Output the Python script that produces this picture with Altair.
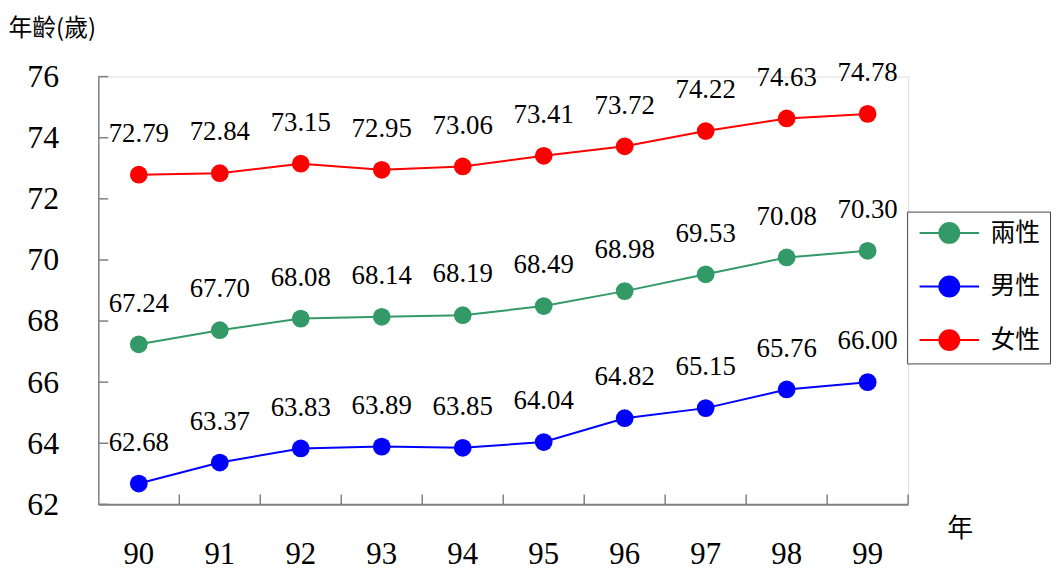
import altair as alt
import pandas as pd

years = ["90", "91", "92", "93", "94", "95", "96", "97", "98", "99"]
both = [67.24, 67.70, 68.08, 68.14, 68.19, 68.49, 68.98, 69.53, 70.08, 70.30]
male = [62.68, 63.37, 63.83, 63.89, 63.85, 64.04, 64.82, 65.15, 65.76, 66.00]
female = [72.79, 72.84, 73.15, 72.95, 73.06, 73.41, 73.72, 74.22, 74.63, 74.78]
series = ["兩性", "男性", "女性"]
colors = ["#339966", "#0000FF", "#FF0000"]
y_ticks = [62, 64, 66, 68, 70, 72, 74, 76]

rows = []
for name, vals in zip(series, [both, male, female]):
    for yr, v in zip(years, vals):
        rows.append({"year": yr, "value": v, "series": name, "label": f"{v:.2f}"})
df = pd.DataFrame(rows)
tick_df = pd.DataFrame({"t": y_ticks})
year_df = pd.DataFrame({"year": years})

W, H = 816, 431
SERIF = "Liberation Serif"
CJK = "Noto Sans CJK TC"

xscale = alt.Scale(type="band", domain=years, paddingInner=0, paddingOuter=0)
yscale = alt.Scale(domain=[62, 76], nice=False, zero=False)
cscale = alt.Scale(domain=series, range=colors)

x_axis = alt.Axis(
    title="年", titleFont=CJK, titleFontSize=26, titleFontWeight="normal",
    titleX=868, titleY=24, titleAlign="center", titleBaseline="middle", titleAngle=0,
    labelFont=SERIF, labelFontSize=31, labelPadding=36, labelAngle=0,
    labelAlign="center", labelBaseline="top", bandPosition=0.5,
    labelColor="black", ticks=False, domainColor="#808080", domainWidth=2,
    grid=False,
)
y_axis = alt.Axis(
    title="年齡(歲)", titleFont=CJK, titleFontSize=24, titleFontWeight="normal",
    titleX=-91, titleY=-48, titleAlign="left", titleBaseline="middle", titleAngle=0,
    labelFont=SERIF, labelFontSize=32, labelPadding=40, labelColor="black",
    values=y_ticks, ticks=False, domainColor="#808080", domainWidth=1.5, grid=False,
)

legend = alt.Legend(
    title=None, orient="none", legendX=815, legendY=136,
    strokeColor="#444444", padding=9, fillColor="white",
    symbolType="M-3,0L3,0M-1,0A1,1,0,1,1,1,0A1,1,0,1,1,-1,0Z",
    symbolSize=400, symbolStrokeWidth=2, symbolOffset=21,
    labelFont=CJK, labelFontSize=25, labelOffset=29, labelColor="black",
    rowPadding=25,
)

base = alt.Chart(df)

lines = base.mark_line(strokeWidth=2).encode(
    x=alt.X("year:N", scale=xscale, axis=x_axis),
    y=alt.Y("value:Q", scale=yscale, axis=y_axis),
    color=alt.Color("series:N", scale=cscale, legend=legend),
)
points = base.mark_point(filled=True, size=320, opacity=1, shape="circle").encode(
    x=alt.X("year:N", scale=xscale),
    y=alt.Y("value:Q", scale=yscale),
    color=alt.Color("series:N", scale=cscale, legend=legend),
)
labels = base.mark_text(font=SERIF, fontSize=27, dy=-41, color="black", baseline="middle").encode(
    x=alt.X("year:N", scale=xscale),
    y=alt.Y("value:Q", scale=yscale),
    text="label:N",
)
yticks = alt.Chart(tick_df).mark_rule(color="#808080", strokeWidth=1.5).encode(
    y=alt.Y("t:Q", scale=yscale),
    x=alt.value(0), x2=alt.value(10),
)
xticks = alt.Chart(year_df).mark_rule(color="#808080", strokeWidth=1.5).encode(
    x=alt.X("year:N", scale=xscale, bandPosition=1),
    y=alt.value(H - 10), y2=alt.value(H),
)

chart = alt.layer(yticks, xticks, lines, points, labels).properties(
    width=W, height=H,
    autosize=alt.AutoSizeParams(type="none"),
    padding={"left": 91, "top": 67, "right": 148, "bottom": 65},
).configure_view(stroke=None).configure(background="white")

chart.save("out.html", embed_options={"renderer": "svg", "actions": False})
